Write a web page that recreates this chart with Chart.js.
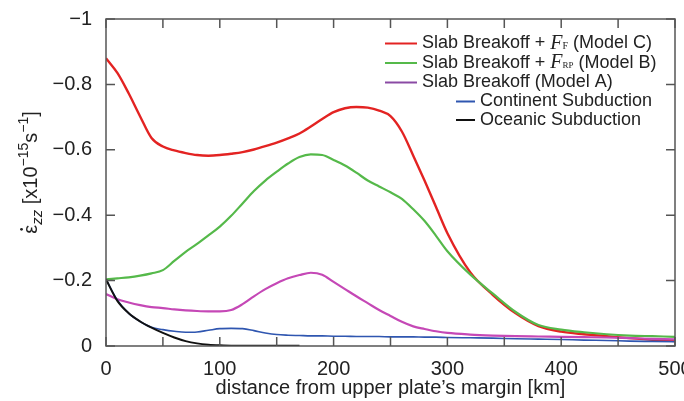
<!DOCTYPE html>
<html><head><meta charset="utf-8">
<script src="https://cdn.jsdelivr.net/npm/chart.js@4"></script>
<style>html,body{margin:0;padding:0;background:#fff;}</style>
</head><body>
<canvas id="c" width="684" height="401"></canvas>
<script>
// ---- data (strain rate, x10^-15 s^-1) ----
const distances = [0,10,20,30,40,50,60,70,80,90,100,110,120,130,140,150,160,170,180,190,200,210,220,230,240,250,260,270,280,290,300,320,340,360,380,400,420,440,460,480,500];
const modelC = [-0.880,-0.835,-0.772,-0.702,-0.636,-0.610,-0.598,-0.590,-0.584,-0.582,-0.584,-0.588,-0.593,-0.601,-0.611,-0.622,-0.635,-0.650,-0.671,-0.694,-0.715,-0.727,-0.731,-0.729,-0.720,-0.703,-0.656,-0.582,-0.505,-0.425,-0.345,-0.226,-0.156,-0.100,-0.061,-0.044,-0.036,-0.030,-0.024,-0.019,-0.015];
const modelB = [-0.204,-0.207,-0.210,-0.215,-0.222,-0.232,-0.260,-0.288,-0.312,-0.338,-0.365,-0.398,-0.436,-0.474,-0.506,-0.533,-0.558,-0.578,-0.586,-0.584,-0.569,-0.552,-0.530,-0.506,-0.488,-0.470,-0.450,-0.418,-0.382,-0.337,-0.290,-0.219,-0.160,-0.104,-0.064,-0.050,-0.042,-0.036,-0.032,-0.030,-0.028];
const modelA = [-0.159,-0.143,-0.133,-0.125,-0.119,-0.116,-0.112,-0.109,-0.107,-0.106,-0.106,-0.110,-0.128,-0.152,-0.174,-0.192,-0.207,-0.217,-0.224,-0.218,-0.196,-0.174,-0.152,-0.131,-0.110,-0.092,-0.074,-0.060,-0.052,-0.045,-0.040,-0.035,-0.032,-0.030,-0.029,-0.028,-0.027,-0.026,-0.024,-0.022,-0.020];
const continent = [-0.204,-0.140,-0.100,-0.075,-0.057,-0.050,-0.045,-0.042,-0.043,-0.048,-0.053,-0.054,-0.053,-0.047,-0.040,-0.035,-0.033,-0.032,-0.031,-0.031,-0.030,-0.030,-0.029,-0.029,-0.029,-0.028,-0.028,-0.028,-0.027,-0.027,-0.026,-0.025,-0.024,-0.022,-0.021,-0.020,-0.018,-0.017,-0.015,-0.014,-0.013];
const oceanic = [-0.204,-0.138,-0.100,-0.075,-0.056,-0.040,-0.026,-0.015,-0.008,-0.004,-0.002,-0.001,-0.001,-0.001,-0.001,-0.001,-0.001,-0.001,null,null,null,null,null,null,null,null,null,null,null,null,null,null,null,null,null,null,null,null,null,null,null];
const xTickLabels = ['0','100','200','300','400','500'];
const yTickLabels = ['\u22121','\u22120.8','\u22120.6','\u22120.4','\u22120.2','0'];
const xTitle = 'distance from upper plate\u2019s margin [km]';

const SANS = '"Liberation Sans", Arial, Helvetica, sans-serif';
const SERIF = '"Liberation Serif", "Times New Roman", serif';
const TXT = '#222';
const AX = '#555';

function pts(arr){ return distances.map((d,i)=>({x:d,y:arr[i]})); }

function drawParts(ctx, parts, x, y){
  let cx = x;
  for (const p of parts){
    ctx.font = p.font;
    ctx.fillText(p.t, cx, y + (p.dy||0));
    cx += ctx.measureText(p.t).width;
  }
  return cx;
}
function partsWidth(ctx, parts){
  let w=0; for(const p of parts){ctx.font=p.font; w+=ctx.measureText(p.t).width;} return w;
}

const decor = {
  id:'decor',
  afterDraw(chart){
    const ctx = chart.ctx, a = chart.chartArea;
    const xs = chart.scales.x, ys = chart.scales.y;
    ctx.save();
    // frame
    ctx.strokeStyle = AX; ctx.lineWidth = 1.5;
    ctx.strokeRect(a.left, a.top, a.right-a.left, a.bottom-a.top);
    // ticks
    ctx.beginPath();
    for (let v=0; v<=500; v+=50){
      const px = xs.getPixelForValue(v);
      ctx.moveTo(px, a.bottom); ctx.lineTo(px, a.bottom-9);
      ctx.moveTo(px, a.top); ctx.lineTo(px, a.top+9);
    }
    for (let k=0; k<=5; k++){
      const py = ys.getPixelForValue(-1 + k*0.2);
      ctx.moveTo(a.left, py); ctx.lineTo(a.left+9, py);
      ctx.moveTo(a.right, py); ctx.lineTo(a.right-9, py);
    }
    ctx.stroke();

    // legend
    ctx.fillStyle = TXT; ctx.textBaseline = 'middle';
    const F = '18px '+SANS;
    const rows = [
      {y:43.5, col:'#e32322', x0:385, x1:417, tx:422, parts:[{t:'Slab Breakoff + ',font:F},{t:'F',font:'italic 20px '+SERIF},{t:'F',font:'10px '+SERIF,dy:3},{t:' (Model C)',font:F}]},
      {y:63, col:'#55b94a', x0:385, x1:417, tx:422, parts:[{t:'Slab Breakoff + ',font:F},{t:'F',font:'italic 20px '+SERIF},{t:'RP',font:'9px '+SERIF,dy:3},{t:' (Model B)',font:F}]},
      {y:82.5, col:'#8a4aa4', x0:385, x1:417, tx:422, parts:[{t:'Slab Breakoff (Model A)',font:F}]},
      {y:101.5, col:'#2f56b0', x0:456, x1:475, tx:480, parts:[{t:'Continent Subduction',font:F}]},
      {y:120, col:'#111', x0:456, x1:475, tx:480, parts:[{t:'Oceanic Subduction',font:F}]}
    ];
    for (const r of rows){
      ctx.strokeStyle = r.col; ctx.lineWidth = 2;
      ctx.beginPath(); ctx.moveTo(r.x0, r.y); ctx.lineTo(r.x1, r.y); ctx.stroke();
      ctx.fillStyle = TXT;
      drawParts(ctx, r.parts, r.tx, r.y);
    }

    // x title
    ctx.font = '20px '+SANS; ctx.textAlign = 'center'; ctx.textBaseline = 'middle';
    ctx.fillText(xTitle, (a.left+a.right)/2, 388);

    // y title (rotated)
    ctx.textAlign = 'left'; ctx.textBaseline = 'alphabetic';
    const B = '20px '+SANS, S = '14px '+SANS;
    const yp = [
      {t:'\u03b5',font:B},
      {t:'zz',font:'italic 15px '+SANS,dy:5},
      {t:' [x10',font:B},
      {t:'\u221215',font:S,dy:-9},
      {t:'s',font:B},
      {t:'\u22121',font:S,dy:-9},
      {t:']',font:B}
    ];
    ctx.translate(37, (a.top+a.bottom)/2 - 10);
    ctx.rotate(-Math.PI/2);
    const w = partsWidth(ctx, yp);
    const sx = -w/2;
    drawParts(ctx, yp, sx, 0);
    // dot above epsilon
    ctx.font = B;
    const ew = ctx.measureText('\u03b5').width;
    ctx.beginPath(); ctx.arc(sx + ew/2, -15.5, 1.4, 0, Math.PI*2); ctx.fill();
    ctx.restore();
  }
};

new Chart(document.getElementById('c'), {
  type:'line',
  data:{ datasets:[
    {label:'Oceanic Subduction', data:pts(oceanic), borderColor:'#111', borderWidth:2},
    {label:'Continent Subduction', data:pts(continent), borderColor:'#2f56b0', borderWidth:1.6},
    {label:'Slab Breakoff (Model A)', data:pts(modelA), borderColor:'#c548b6', borderWidth:2.2},
    {label:'Slab Breakoff + F_RP (Model B)', data:pts(modelB), borderColor:'#55b94a', borderWidth:2.2},
    {label:'Slab Breakoff + F_F (Model C)', data:pts(modelC), borderColor:'#e32322', borderWidth:2.4}
  ]},
  options:{
    responsive:false, animation:false,
    elements:{ point:{radius:0}, line:{cubicInterpolationMode:'monotone', fill:false} },
    spanGaps:false,
    layout:{ padding:{top:19, right:9, left:0, bottom:0} },
    plugins:{ legend:{display:false}, tooltip:{enabled:false}, title:{display:false} },
    scales:{
      x:{ type:'linear', min:0, max:500,
        grid:{display:false}, border:{display:false},
        ticks:{ stepSize:50, autoSkip:false, maxRotation:0, padding:3, color:TXT,
          font:{family:SANS, size:20},
          callback:(v)=> (v%100===0 ? xTickLabels[v/100] : '') },
        afterFit:(s)=>{ s.height = 55; s.paddingLeft = 0; s.paddingRight = 0; }
      },
      y:{ type:'linear', min:-1, max:0, reverse:true,
        grid:{display:false}, border:{display:false},
        ticks:{ stepSize:0.2, padding:6, color:TXT, font:{family:SANS, size:20},
          callback:(v)=> yTickLabels[Math.round((v+1)/0.2)] },
        afterFit:(s)=>{ s.width = 106; s.paddingTop = 0; s.paddingBottom = 0; }
      }
    }
  },
  plugins:[decor]
});
</script>
</body></html>
